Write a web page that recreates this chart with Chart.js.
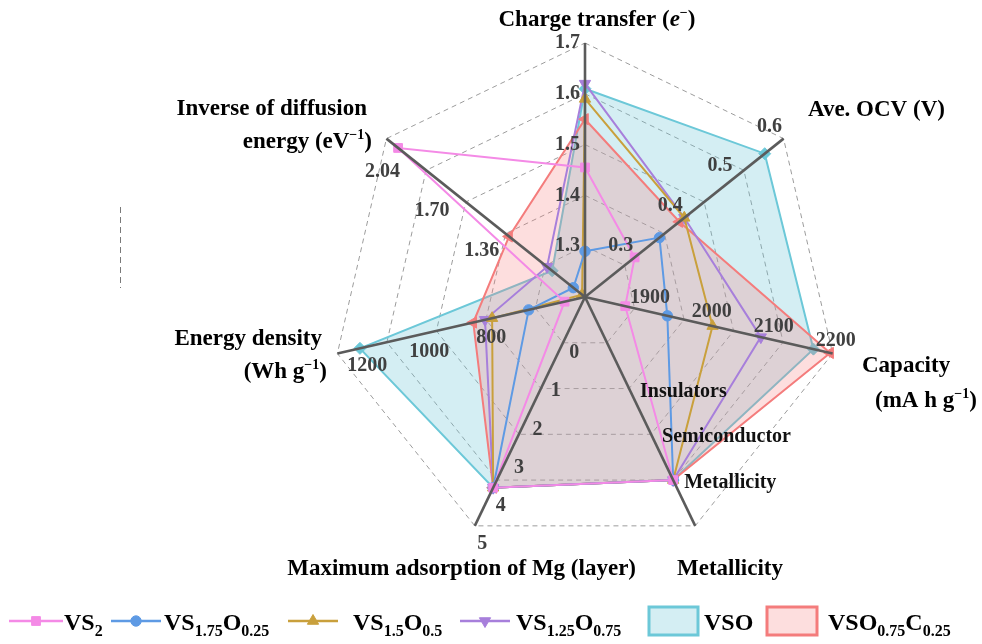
<!DOCTYPE html>
<html>
<head>
<meta charset="utf-8">
<script src="https://cdn.jsdelivr.net/npm/chart.js@4.4.0/dist/chart.umd.min.js"></script>
<style>
  html, body { margin: 0; padding: 0; background: #ffffff; }
  canvas { display: block; }
</style>
</head>
<body>
<canvas id="radar" width="982" height="644"></canvas>
<script>
// ---- axes (clockwise from the top) and the value range each one spans ----
const axisNames = ['Charge transfer', 'Ave. OCV', 'Capacity', 'Metallicity',
                   'Maximum adsorption of Mg', 'Energy density', 'Inverse of diffusion energy'];
const axisMin = [1.2, 0.2, 1800, -1, -1, 400, 0.68];
const axisMax = [1.7, 0.6, 2200, 4, 5, 1200, 2.04];
const conductivityLevels = ['Insulators', 'Semiconductor', 'Metallicity'];

// ---- tick labels on each axis ----
const chargeTicks = [1.3, 1.4, 1.5, 1.6, 1.7];
const ocvTicks = [0.3, 0.4, 0.5, 0.6];
const capacityTicks = [1900, 2000, 2100, 2200];
const layerTicks = [0, 1, 2, 3, 4, 5];
const energyTicks = [800, 1000, 1200];
const diffusionTicks = [1.36, 1.70, 2.04];

// ---- series: [charge transfer, OCV, capacity, conductivity, Mg layers, energy density, 1/Ediff] ----
const seriesNames = ['VS_{2}', 'VS_{1.75}O_{0.25}', 'VS_{1.5}O_{0.5}', 'VS_{1.25}O_{0.75}', 'VSO', 'VSO_{0.75}C_{0.25}'];
const vs2      = [1.455, 0.300, 1865, 'Metallicity', 4, 466, 1.96];
const vs175    = [1.290, 0.350, 1933, 'Metallicity', 4, 582, 0.76];
const vs15     = [1.590, 0.400, 2006, 'Metallicity', 4, 700, 0.70];
const vs125    = [1.620, 0.400, 2084, 'Metallicity', 4, 723, 0.94];
const vso      = [1.610, 0.562, 2169, 'Metallicity', 4, 1127, 0.905];
const vsoc     = [1.550, 0.390, 2196, 'Metallicity', 4, 761, 1.20];
const seriesValues = [vs2, vs175, vs15, vs125, vso, vsoc];

// ---- styling ----
const RINGS = 5;
const lineColors = ['#f48ae6', '#5e9ae4', '#c9a03c', '#a77fdb', '#6cc8d8', '#f47c7c'];
const fillColors = [null, null, null, null, 'rgba(108,198,214,0.29)', 'rgba(246,122,122,0.25)'];
const markerStyles = [
  { pointStyle: 'rect', radius: 6.2, rotation: 0 },
  { pointStyle: 'circle', radius: 5.2, rotation: 0 },
  { pointStyle: 'triangle', radius: 6.5, rotation: 0 },
  { pointStyle: 'triangle', radius: 6.5, rotation: 180 },
  { pointStyle: 'rectRot', radius: 6, rotation: 0 },
  { pointStyle: 'triangle', radius: 6.5, rotation: -90 }
];
const drawOrder = [1, 2, 3, 4, 6, 5];
const SERIF = '"Liberation Serif", "Times New Roman", serif';

function toRing(axis, raw) {
  const v = (axis === 3) ? conductivityLevels.indexOf(raw) + 1 : raw;
  return (v - axisMin[axis]) / (axisMax[axis] - axisMin[axis]) * RINGS;
}

const datasets = seriesValues.map((vals, i) => ({
  label: seriesNames[i],
  data: vals.map((v, a) => toRing(a, v)),
  borderColor: lineColors[i],
  borderWidth: 2,
  backgroundColor: fillColors[i] || 'rgba(0,0,0,0)',
  fill: fillColors[i] ? 'origin' : false,
  pointStyle: markerStyles[i].pointStyle,
  pointRadius: markerStyles[i].radius,
  pointRotation: markerStyles[i].rotation,
  pointBackgroundColor: lineColors[i],
  pointBorderColor: lineColors[i],
  pointBorderWidth: 1,
  order: drawOrder[i]
}));

// ---- text helpers ----
function parseLabel(s) {
  const parts = [];
  const re = /_\{([^}]*)\}|\^\{([^}]*)\}|\*\{([^}]*)\}|([^_^*]+)/g;
  let m;
  while ((m = re.exec(s)) !== null) {
    if (m[1] !== undefined) parts.push({ t: m[1], mode: 'sub' });
    else if (m[2] !== undefined) parts.push({ t: m[2], mode: 'sup' });
    else if (m[3] !== undefined) parts.push({ t: m[3], mode: 'it' });
    else parts.push({ t: m[4], mode: 'n' });
  }
  return parts;
}

function drawRich(ctx, text, x, y, align, size, color, subScale) {
  const parts = parseLabel(text);
  const small = Math.round(size * (subScale || 0.67));
  const fontFor = p => (p.mode === 'it' ? 'italic ' : '') + 'bold ' +
      ((p.mode === 'sub' || p.mode === 'sup') ? small : size) + 'px ' + SERIF;
  let w = 0;
  parts.forEach(p => { ctx.font = fontFor(p); p.w = ctx.measureText(p.t).width; w += p.w; });
  let cx = align === 'center' ? x - w / 2 : (align === 'right' ? x - w : x);
  ctx.fillStyle = color;
  ctx.textAlign = 'left';
  ctx.textBaseline = 'alphabetic';
  parts.forEach(p => {
    ctx.font = fontFor(p);
    const dy = p.mode === 'sub' ? size * 0.27 : (p.mode === 'sup' ? -size * 0.4 : 0);
    ctx.fillText(p.t, cx, y + dy);
    cx += p.w;
  });
}

// ---- axis titles ----
const axisTitles = [
  { text: 'Charge transfer (*{e}^{−})', x: 597, y: 26, align: 'center' },
  { text: 'Ave. OCV (V)', x: 808, y: 116, align: 'left' },
  { text: 'Capacity', x: 862, y: 372, align: 'left' },
  { text: '(mA h g^{−1})', x: 875, y: 407, align: 'left' },
  { text: 'Metallicity', x: 677, y: 575, align: 'left' },
  { text: 'Maximum adsorption of Mg (layer)', x: 636, y: 575, align: 'right' },
  { text: 'Energy density', x: 322, y: 345, align: 'right' },
  { text: '(Wh g^{−1})', x: 327, y: 378, align: 'right' },
  { text: 'Inverse of diffusion', x: 367, y: 115, align: 'right' },
  { text: 'energy (eV^{−1})', x: 372, y: 148, align: 'right' }
];

// per-axis tick label placement relative to the tick point
const tickSets = [
  { axis: 0, ticks: chargeTicks, fmt: v => v.toFixed(1), dx: -5, dy: 0, align: 'right', color: '#404040' },
  { axis: 1, ticks: ocvTicks, fmt: v => v.toFixed(1), dx: -14, dy: -12, align: 'center', color: '#404040' },
  { axis: 2, ticks: capacityTicks, fmt: v => String(v), dx: 3, dy: -13, align: 'center', color: '#404040' },
  { axis: 3, ticks: conductivityLevels, fmt: v => v, dx: 11, dy: 3, align: 'left', color: '#111111' },
  { axis: 4, ticks: layerTicks, fmt: v => String(v), dx: 7.5, dy: 18, align: 'center', color: '#404040' },
  { axis: 5, ticks: energyTicks, fmt: v => String(v), dx: 30, dy: 12.5, align: 'center', color: '#404040' },
  { axis: 6, ticks: diffusionTicks, fmt: v => v.toFixed(2), dx: -4, dy: 33, align: 'center', color: '#404040' }
];

// legend entries: line-with-marker for the first four, filled box for the last two
const legendItems = [
  { kind: 'line', x0: 9, x1: 63, tx: 64 },
  { kind: 'line', x0: 111, x1: 161, tx: 164 },
  { kind: 'line', x0: 288, x1: 338, tx: 353 },
  { kind: 'line', x0: 460, x1: 510, tx: 516 },
  { kind: 'box', x0: 649, x1: 698, tx: 704 },
  { kind: 'box', x0: 767, x1: 817, tx: 828 }
];
const LEGEND_Y = 621;

const overlay = {
  id: 'overlay',
  afterDatasetsDraw(chart) {
    const ctx = chart.ctx;
    const scale = chart.scales.r;
    const n = axisNames.length;
    ctx.save();

    // axis spokes drawn over the data
    ctx.strokeStyle = '#5b5b5b';
    ctx.lineWidth = 2.6;
    ctx.lineCap = 'butt';
    for (let i = 0; i < n; i++) {
      const p = scale.getPointPositionForValue(i, RINGS);
      ctx.beginPath();
      ctx.moveTo(scale.xCenter, scale.yCenter);
      ctx.lineTo(p.x, p.y);
      ctx.stroke();
    }

    // tick labels along every axis
    tickSets.forEach(set => {
      set.ticks.forEach(t => {
        const p = scale.getPointPositionForValue(set.axis, toRing(set.axis, t));
        ctx.font = 'bold 20px ' + SERIF;
        ctx.fillStyle = set.color;
        ctx.textAlign = set.align;
        ctx.textBaseline = 'middle';
        ctx.fillText(set.fmt(t), p.x + set.dx, p.y + set.dy);
      });
    });

    // axis titles
    axisTitles.forEach(t => drawRich(ctx, t.text, t.x, t.y, t.align, 23, '#000000', 0.62));

    // legend
    legendItems.forEach((item, i) => {
      const col = lineColors[i];
      if (item.kind === 'line') {
        ctx.strokeStyle = col;
        ctx.lineWidth = 2.5;
        ctx.setLineDash([]);
        ctx.beginPath();
        ctx.moveTo(item.x0, LEGEND_Y);
        ctx.lineTo(item.x1, LEGEND_Y);
        ctx.stroke();
        ctx.fillStyle = col;
        ctx.strokeStyle = col;
        ctx.lineWidth = 1;
        Chart.helpers.drawPoint(ctx, {
          pointStyle: markerStyles[i].pointStyle,
          radius: markerStyles[i].radius,
          rotation: markerStyles[i].rotation,
          borderWidth: 1
        }, (item.x0 + item.x1) / 2, LEGEND_Y);
      } else {
        const h = 28;
        ctx.fillStyle = '#ffffff';
        ctx.fillRect(item.x0, LEGEND_Y - h / 2, item.x1 - item.x0, h);
        ctx.fillStyle = fillColors[i];
        ctx.fillRect(item.x0, LEGEND_Y - h / 2, item.x1 - item.x0, h);
        ctx.strokeStyle = col;
        ctx.lineWidth = 3;
        ctx.strokeRect(item.x0, LEGEND_Y - h / 2, item.x1 - item.x0, h);
      }
      drawRich(ctx, seriesNames[i], item.tx, LEGEND_Y + 9, 'left', 24, '#000000', 0.67);
    });

    // short dashed mark at the left
    ctx.strokeStyle = '#7a7a7a';
    ctx.lineWidth = 1;
    ctx.setLineDash([6, 4]);
    ctx.beginPath();
    ctx.moveTo(120.5, 207);
    ctx.lineTo(120.5, 288);
    ctx.stroke();
    ctx.setLineDash([]);

    ctx.restore();
  }
};

new Chart(document.getElementById('radar'), {
  type: 'radar',
  data: { labels: axisNames, datasets },
  options: {
    responsive: false,
    animation: false,
    devicePixelRatio: 1,
    layout: { padding: { left: 331, right: 143, top: 43, bottom: 93 } },
    plugins: { legend: { display: false }, tooltip: { enabled: false } },
    elements: { line: { tension: 0 } },
    scales: {
      r: {
        min: 0,
        max: RINGS,
        ticks: { display: false, stepSize: 1 },
        grid: { color: '#9c9c9c', lineWidth: 1, circular: false },
        border: { dash: [5, 4] },
        angleLines: { display: false },
        pointLabels: { display: false }
      }
    }
  },
  plugins: [overlay]
});
</script>
</body>
</html>
